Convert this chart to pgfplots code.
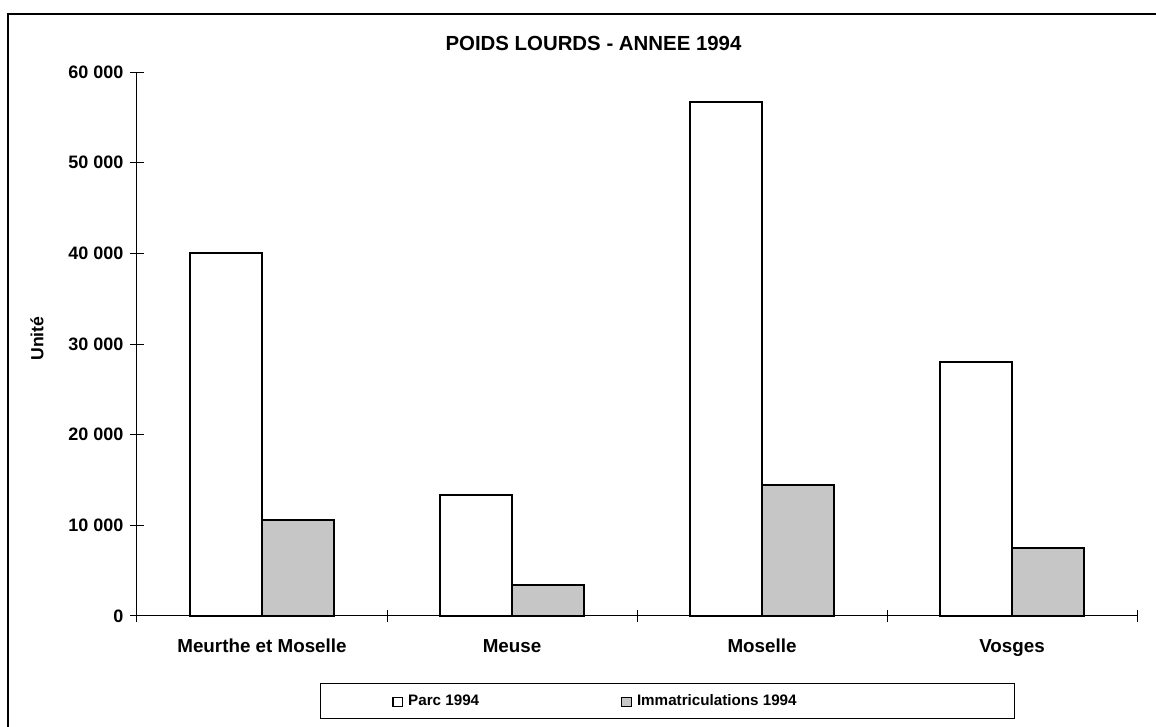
\documentclass[border=0pt]{standalone}
\usepackage{pgfplots}
\pgfplotsset{compat=1.18}
\usepackage{fontspec}
\setmainfont{Liberation Sans}
\pgfplotstableread{
x parc immat
0 40000 10630
1 13300 3450
2 56640 14440
3 28000 7500
}\datatab
\begin{document}
\begin{tikzpicture}
\useasboundingbox (-68.5pt,-55.5pt) rectangle (509.5pt,308pt);
\begin{axis}[
  width=500pt, height=272pt, scale only axis,
  clip=false,
  axis lines*=left,
  axis line style={line width=0.5pt},
  xmin=-0.5, xmax=3.5,
  ymin=0, ymax=60000,
  ytick={0,10000,...,60000},
  scaled y ticks=false,
  /pgf/number format/.cd, 1000 sep={\ }, assume math mode=true, /pgfplots/.cd,
  yticklabel style={font=\bfseries\fontsize{9}{10}\selectfont},
  xtick={0,1,2,3},
  xticklabels={Meurthe et Moselle, Meuse, Moselle, Vosges},
  xticklabel style={font=\bfseries\fontsize{9.4}{11}\selectfont, text height=7pt, text depth=2pt, yshift=-1pt},
  x tick style={draw=none},
  extra x ticks={-0.5,0.5,1.5,2.5,3.5},
  extra x tick labels={},
  extra x tick style={tick align=center, major tick length=6pt, x tick style={draw=black, line width=0.5pt}},
  tick align=center,
  major tick length=6.5pt,
  y tick style={line width=0.5pt, black},
  ybar=0pt, bar width=36pt,
  title={POIDS LOURDS - ANNEE 1994},
  title style={font=\bfseries\fontsize{10.2}{12}\selectfont, at={(axis description cs:0.4565,1.031)}, anchor=center},
  ylabel={\bfseries\fontsize{8.8}{10}\selectfont Unité},
  ylabel style={at={(axis description cs:-0.100,0.510)}, anchor=center},
  legend columns=2,
  legend style={draw=none, fill=none, at={(axis description cs:0.255,-0.158)}, anchor=west, inner sep=0pt,
    font=\bfseries\fontsize{7.6}{9}\selectfont,
    /tikz/every even column/.append style={column sep=69pt},
    /tikz/every odd column/.append style={column sep=0.5pt}},
  legend image code/.code={\draw[#1, line width=0.6pt, draw=black] (0pt,-2.4pt) rectangle (4.8pt,2.4pt);},
]
\addplot[draw=black, line width=1pt, fill=white] table[x=x, y=parc] {\datatab};
\addplot[draw=black, line width=1pt, fill=gray!45] table[x=x, y=immat] {\datatab};
\legend{Parc 1994, Immatriculations 1994}
\draw[line width=0.5pt] (rel axis cs:0.183,-0.1232) rectangle (rel axis cs:0.877,-0.1893);
\end{axis}
\draw[line width=0.9pt] (-64.5pt,-55.5pt) -- (-64.5pt,301pt) -- (509.5pt,301pt);
\end{tikzpicture}
\end{document}
